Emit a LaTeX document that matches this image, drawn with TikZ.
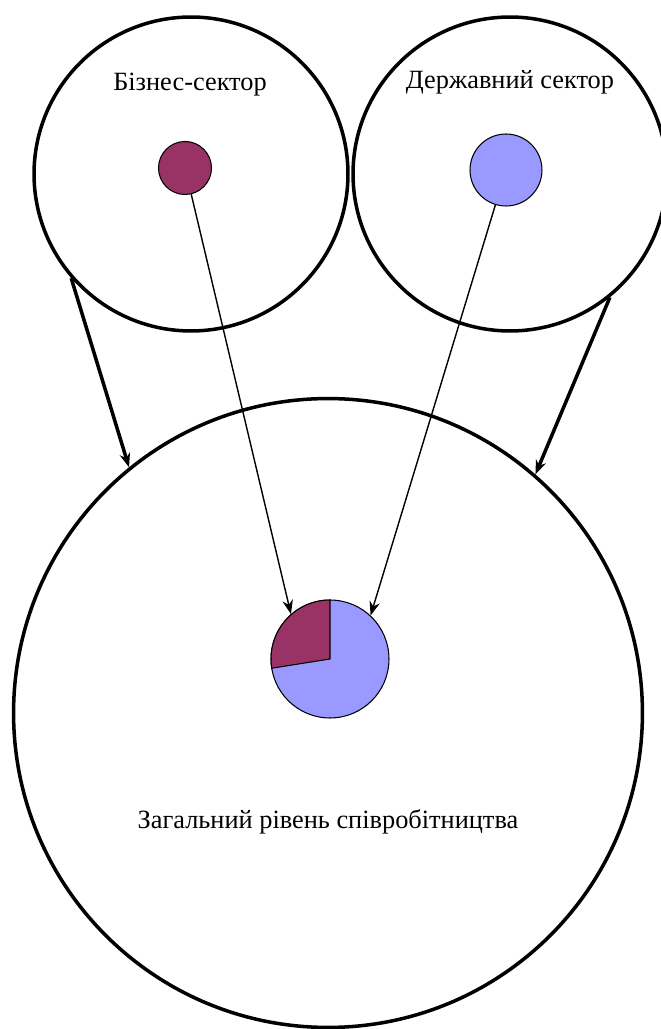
\documentclass[tikz,border=0pt]{standalone}
\usepackage{fontspec}
\setmainfont{Liberation Serif}
\usetikzlibrary{arrows.meta}

\definecolor{bizcol}{HTML}{993366}
\definecolor{govcol}{HTML}{9999FF}

\begin{document}
\begin{tikzpicture}[x=0.02cm, y=0.02cm]

\tikzset{sector/.style = {shape=circle,draw,line width=2pt,inner sep=0pt}}
\tikzset{dot/.style = {shape=circle,draw,line width=0.6pt,inner sep=0pt}}
\tikzset{label/.style = {font=\fontsize{15}{18}\selectfont}}
\tikzset{thin edge/.style = {-{Stealth[length=8pt,width=6pt]},line width=0.8pt}}
\tikzset{thick edge/.style = {-{Stealth[length=8pt,width=6pt]},line width=2pt}}

\useasboundingbox (0,0) rectangle (661,1029);
\clip (0,0) rectangle (661,1029);

%circles
\node[sector, minimum size=6.28cm] (biz) at (191,855) {};
\node[sector, minimum size=6.28cm] (gov) at (510,855) {};
\node[sector, minimum size=12.58cm] (all) at (328,316) {};
%small circles
\node[dot, fill=bizcol, minimum size=1.06cm] (bizdot) at (185,861) {};
\node[dot, fill=govcol, minimum size=1.44cm] (govdot) at (506,859) {};
%pie
\node[dot, fill=govcol, minimum size=2.36cm] (pie) at (330,370) {};
\filldraw[fill=bizcol, line width=0.6pt] (pie.center) -- ++(90:1.18cm) arc (90:189:1.18cm) -- cycle;
%labels
\node[label] (bizlab) at (190,944) {Бізнес-сектор};
\node[label] (govlab) at (510,947) {Державний сектор};
\node[label] (alllab) at (328,207) {Загальний рівень співробітництва};
%edges
\draw[thin edge] (bizdot) -- (pie.131);
\draw[thin edge] (govdot) -- (pie.47);
\draw[thick edge] (biz.221.6) -- (all.129.6);
\draw[thick edge] (gov.309.6) -- (all.49.5);

\end{tikzpicture}
\end{document}
